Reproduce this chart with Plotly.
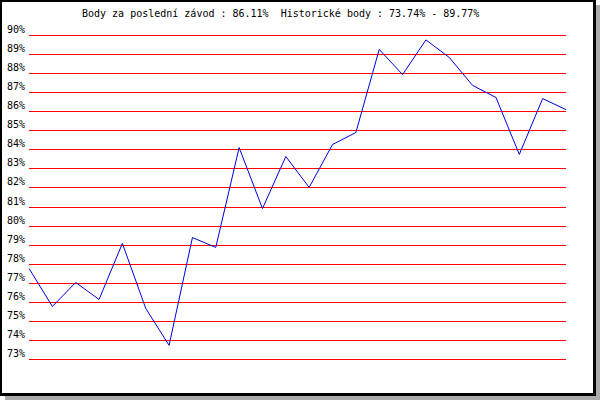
import plotly.graph_objects as go

# ---- data ----
race_index = list(range(24))
points_pct = [77.78, 75.78, 77.04, 76.15, 79.09, 75.68, 73.74, 79.40, 78.88, 84.12,
              80.92, 83.65, 82.03, 84.28, 84.91, 89.27, 87.95, 89.77, 88.85, 87.38,
              86.75, 83.76, 86.69, 86.11]
tick_values = list(range(73, 91))
tick_labels = [f"{v}%" for v in tick_values]
title_text = "Body za poslední závod : 86.11%  Historické body : 73.74% - 89.77%"

# ---- layout geometry (pixels) ----
W, H = 600, 400
ML, MR, MT, MB = 29, 34, 26, 31
PW, PH = W - ML - MR, H - MT - MB


def px_x(px):
    return (px - ML) / PW


def px_y(py):
    return (H - MB - py) / PH


MONO = "DejaVu Sans Mono"

fig = go.Figure()
fig.add_trace(go.Scatter(
    x=race_index, y=points_pct, mode="lines",
    line=dict(color="#0000dd", width=1), hoverinfo="skip", showlegend=False,
))

shapes = [
    # shadow
    dict(type="rect", xref="paper", yref="paper", layer="below",
         x0=px_x(5), x1=px_x(600), y0=px_y(400), y1=px_y(5),
         fillcolor="#aaaaaa", line=dict(width=0)),
    # black frame
    dict(type="rect", xref="paper", yref="paper", layer="below",
         x0=px_x(0), x1=px_x(596), y0=px_y(396), y1=px_y(0),
         fillcolor="#000000", line=dict(width=0)),
    # white inner
    dict(type="rect", xref="paper", yref="paper", layer="below",
         x0=px_x(2), x1=px_x(593), y0=px_y(393), y1=px_y(2),
         fillcolor="#ffffff", line=dict(width=0)),
]

fig.update_layout(
    width=W, height=H, autosize=False,
    margin=dict(l=ML, r=MR, t=MT, b=MB, pad=0, autoexpand=False),
    paper_bgcolor="#ffffff", plot_bgcolor="rgba(0,0,0,0)",
    shapes=shapes,
    xaxis=dict(range=[0, 23], visible=False, showgrid=False, zeroline=False,
               automargin=False),
    yaxis=dict(range=[72.5, 90.5], tickmode="array", tickvals=tick_values,
               ticktext=tick_labels, showgrid=True, gridcolor="#ff0000",
               gridwidth=1, zeroline=False, showline=False, ticks="",
               automargin=False,
               ticklabelshift=-6, ticklabelstandoff=3,
               tickfont=dict(family=MONO, size=10, color="#000000")),
    annotations=[dict(text=title_text, xref="paper", yref="paper",
                      x=px_x(280), y=px_y(13), xanchor="center", yanchor="middle",
                      showarrow=False,
                      font=dict(family=MONO, size=10, color="#000000"))],
    showlegend=False,
)

fig.write_html(
    "out.html",
    config={"displayModeBar": False},
    post_script="document.body.style.margin='0';document.body.style.overflow='hidden';",
)
